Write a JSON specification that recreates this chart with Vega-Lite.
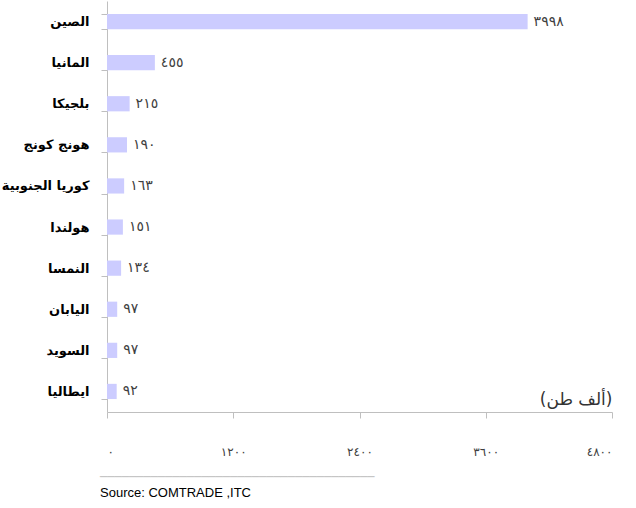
{
  "$schema": "https://vega.github.io/schema/vega-lite/v6.json",
  "width": 505,
  "height": 411,
  "autosize": {"type": "none"},
  "padding": {"left": 107, "top": 1, "right": 24, "bottom": 96},
  "background": "white",
  "config": {"view": {"stroke": null}},
  "data": {
    "values": [
      {"country": "الصين", "value": 3998, "label": "٣٩٩٨"},
      {"country": "المانيا", "value": 455, "label": "٤٥٥"},
      {"country": "بلجيكا", "value": 215, "label": "٢١٥"},
      {"country": "هونج كونج", "value": 190, "label": "١٩٠"},
      {"country": "كوريا الجنوبية", "value": 163, "label": "١٦٣"},
      {"country": "هولندا", "value": 151, "label": "١٥١"},
      {"country": "النمسا", "value": 134, "label": "١٣٤"},
      {"country": "اليابان", "value": 97, "label": "٩٧"},
      {"country": "السويد", "value": 97, "label": "٩٧"},
      {"country": "ايطاليا", "value": 92, "label": "٩٢"}
    ]
  },
  "title": {
    "text": "──────────────────────────────────────",
    "subtitle": "\u2002Source: COMTRADE ,ITC",
    "orient": "bottom",
    "anchor": "start",
    "frame": "group",
    "font": "DejaVu Sans",
    "fontSize": 12,
    "fontWeight": "normal",
    "color": "#c0c0c0",
    "subtitleFont": "Liberation Sans",
    "subtitleFontSize": 13,
    "subtitleColor": "#000000",
    "subtitlePadding": 3,
    "offset": 15,
    "dx": -7
  },
  "encoding": {
    "y": {
      "field": "country",
      "type": "nominal",
      "sort": null,
      "scale": {"paddingInner": 0.63, "paddingOuter": 0.315},
      "axis": {
        "title": null,
        "tickBand": "extent",
        "domainColor": "#bfbfbf",
        "tickColor": "#bfbfbf",
        "tickSize": 6,
        "labelFont": "DejaVu Sans",
        "labelFontWeight": "bold",
        "labelFontSize": 13,
        "labelColor": "#000000",
        "labelPadding": 12
      }
    }
  },
  "layer": [
    {
      "mark": {"type": "bar", "color": "#ccccff"},
      "encoding": {
        "x": {
          "field": "value",
          "type": "quantitative",
          "scale": {"domain": [0, 4800], "nice": false},
          "axis": {
            "values": [0, 1200, 2400, 3600, 4800],
            "labelExpr": "datum.value == 0 ? '٠' : datum.value == 1200 ? '١٢٠٠' : datum.value == 2400 ? '٢٤٠٠' : datum.value == 3600 ? '٣٦٠٠' : '٤٨٠٠'",
            "grid": false,
            "domainColor": "#bfbfbf",
            "tickColor": "#bfbfbf",
            "tickSize": 6,
            "labelPadding": 28,
            "labelFont": "DejaVu Sans",
            "labelFontSize": 12,
            "labelColor": "#404040",
            "title": "(ألف طن)",
            "titleFont": "DejaVu Sans",
            "titleFontWeight": "normal",
            "titleFontSize": 17,
            "titleColor": "#333333",
            "titleAnchor": "end",
            "titleAlign": "right",
            "titleBaseline": "bottom",
            "titleX": 505,
            "titleY": -4
          }
        }
      }
    },
    {
      "mark": {"type": "text", "align": "left", "baseline": "middle", "dx": 6, "font": "DejaVu Sans", "fontSize": 14, "color": "#404040"},
      "encoding": {
        "x": {"field": "value", "type": "quantitative"},
        "text": {"field": "label"}
      }
    }
  ]
}
